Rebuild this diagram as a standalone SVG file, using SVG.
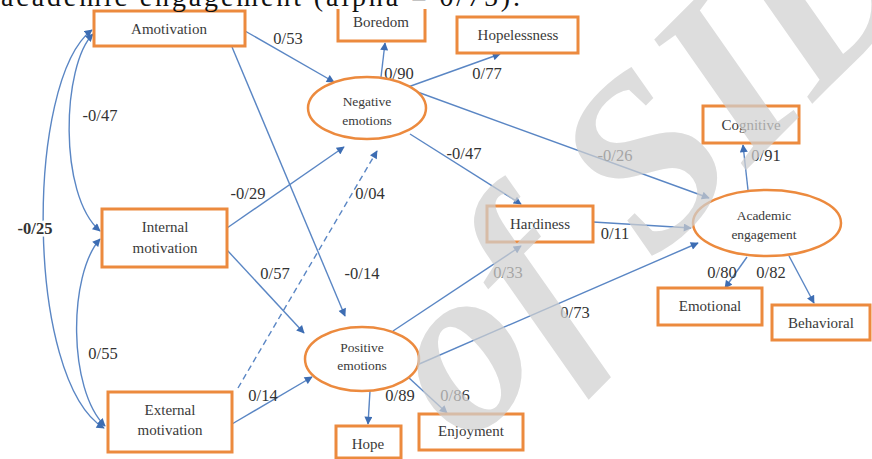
<svg xmlns="http://www.w3.org/2000/svg" width="872" height="459" viewBox="0 0 872 459">
<style>
text{font-family:'Liberation Serif','Tinos','Times New Roman','Times','Nimbus Roman','FreeSerif','Noto Serif','DejaVu Serif',serif}
.box{fill:#fff;stroke:#ec8a3e;stroke-width:3}
.ell{fill:#fff;stroke:#ec8a3e;stroke-width:2.5}
.nt{font-size:15px;fill:#3a3a3a;text-anchor:middle}
.et{font-size:13.5px;fill:#3a3a3a;text-anchor:middle}
.lb{font-size:16.5px;fill:#333;text-anchor:middle}
.e{fill:none;stroke:#5a86c4;stroke-width:1.4;marker-end:url(#ah)}
.d{stroke-dasharray:6 4}
.cv{fill:none;stroke:#5a86c4;stroke-width:1.4;marker-start:url(#ah);marker-end:url(#ah)}
</style>
<defs>
<marker id="ah" viewBox="0 0 10 10" refX="9" refY="5" markerWidth="9" markerHeight="8" markerUnits="userSpaceOnUse" orient="auto-start-reverse">
<path d="M0,0 L10,5 L0,10 z" fill="#3d6db3"/>
</marker>
</defs>
<rect width="872" height="459" fill="#fff"/>

<g id="connectors">
<path class="cv" d="M92,30 C25,80 25,380 104,428"/>
<path class="cv" d="M93,34 C62,65 58,195 100,231"/>
<path class="cv" d="M100,239 C68,275 68,390 105,426"/>
<path class="e" d="M245,31 L334,82"/>
<path class="e" d="M232,47 L345,316"/>
<path class="e" d="M227,228 L344,147"/>
<path class="e" d="M227,250 L304,333"/>
<path class="e d" d="M238,388 L377,151"/>
<path class="e" d="M232,424 L312,377"/>
<path class="e" d="M381,77 L385,43"/>
<path class="e" d="M408,87 L500,54"/>
<path class="e" d="M410,134 L521,204"/>
<path class="e" d="M412,90 L709,198"/>
<path class="e" d="M593,222 L691,228"/>
<path class="e" d="M393,331 L521,246"/>
<path class="e" d="M410,368 L698,243"/>
<path class="e" d="M370,391 L368,424"/>
<path class="e" d="M408,377 L447,413"/>
<path class="e" d="M748,190 L743,145"/>
<path class="e" d="M747,257 L725,288"/>
<path class="e" d="M789,256 L814,303"/>
</g>

<g id="labels">
<text class="lb" x="288" y="44">0/53</text>
<text class="lb" x="100" y="121">-0/47</text>
<text class="lb" x="35" y="234" font-weight="bold" font-size="18" stroke="#fff" stroke-width="5" paint-order="stroke">-0/25</text>
<text class="lb" x="103" y="359">0/55</text>
<text class="lb" x="248" y="199">-0/29</text>
<text class="lb" x="275" y="279">0/57</text>
<text class="lb" x="370" y="199">0/04</text>
<text class="lb" x="362" y="279">-0/14</text>
<text class="lb" x="263" y="401">0/14</text>
<text class="lb" x="399" y="79">0/90</text>
<text class="lb" x="487" y="79">0/77</text>
<text class="lb" x="464" y="159">-0/47</text>
<text class="lb" x="615" y="161">-0/26</text>
<text class="lb" x="766" y="161">0/91</text>
<text class="lb" x="615" y="239">0/11</text>
<text class="lb" x="508" y="278">0/33</text>
<text class="lb" x="575" y="318">0/73</text>
<text class="lb" x="722" y="278">0/80</text>
<text class="lb" x="771" y="278">0/82</text>
<text class="lb" x="400" y="401">0/89</text>
<text class="lb" x="455" y="401">0/86</text>
</g>

<g id="amotivation"><rect class="box" x="94" y="11" width="151" height="35"/><text class="nt" x="169" y="34">Amotivation</text></g>
<g id="boredom"><rect class="box" x="338" y="-3" width="87" height="44"/><text class="nt" x="381" y="27">Boredom</text></g>
<g id="hopelessness"><rect class="box" x="457" y="17" width="121" height="36"/><text class="nt" x="518" y="40">Hopelessness</text></g>
<g id="negative-emotions"><ellipse class="ell" cx="367" cy="108" rx="59" ry="31"/><text class="et" x="367" y="106">Negative</text><text class="et" x="367" y="125">emotions</text></g>
<g id="cognitive"><rect class="box" x="703" y="106" width="96" height="37"/><text class="nt" x="751" y="130">Cognitive</text></g>
<g id="academic-engagement"><ellipse class="ell" cx="767" cy="223" rx="74" ry="33"/><text class="et" x="764" y="220">Academic</text><text class="et" x="764" y="239">engagement</text></g>
<g id="hardiness"><rect class="box" x="487" y="206" width="106" height="36"/><text class="nt" x="540" y="229">Hardiness</text></g>
<g id="internal-motivation"><rect class="box" x="102" y="209" width="125" height="58"/><text class="nt" x="165" y="232">Internal</text><text class="nt" x="165" y="253">motivation</text></g>
<g id="external-motivation"><rect class="box" x="108" y="392" width="124" height="60"/><text class="nt" x="170" y="415">External</text><text class="nt" x="170" y="435">motivation</text></g>
<g id="positive-emotions"><ellipse class="ell" cx="362" cy="359" rx="57" ry="32"/><text class="et" x="362" y="352">Positive</text><text class="et" x="362" y="370">emotions</text></g>
<g id="hope"><rect class="box" x="336" y="426" width="65" height="32"/><text class="nt" x="368" y="449">Hope</text></g>
<g id="enjoyment"><rect class="box" x="419" y="414" width="104" height="36"/><text class="nt" x="471" y="436">Enjoyment</text></g>
<g id="emotional"><rect class="box" x="658" y="288" width="104" height="37"/><text class="nt" x="710" y="311">Emotional</text></g>
<g id="behavioral"><rect class="box" x="772" y="305" width="98" height="35"/><text class="nt" x="821" y="328">Behavioral</text></g>

<rect x="0" y="0" width="872" height="9" fill="#fff"/>
<text x="1" y="6" font-size="28" fill="#111" textLength="519" lengthAdjust="spacing">academic engagement (alpha = 0/75).</text>

<text transform="translate(653,263) rotate(-45)" font-weight="bold" font-style="italic" font-size="240" fill="#d0d0d0" opacity="0.72"><tspan x="-330" text-anchor="end">Archive</tspan> <tspan x="-262">of</tspan> <tspan x="0">SID</tspan></text>
</svg>
